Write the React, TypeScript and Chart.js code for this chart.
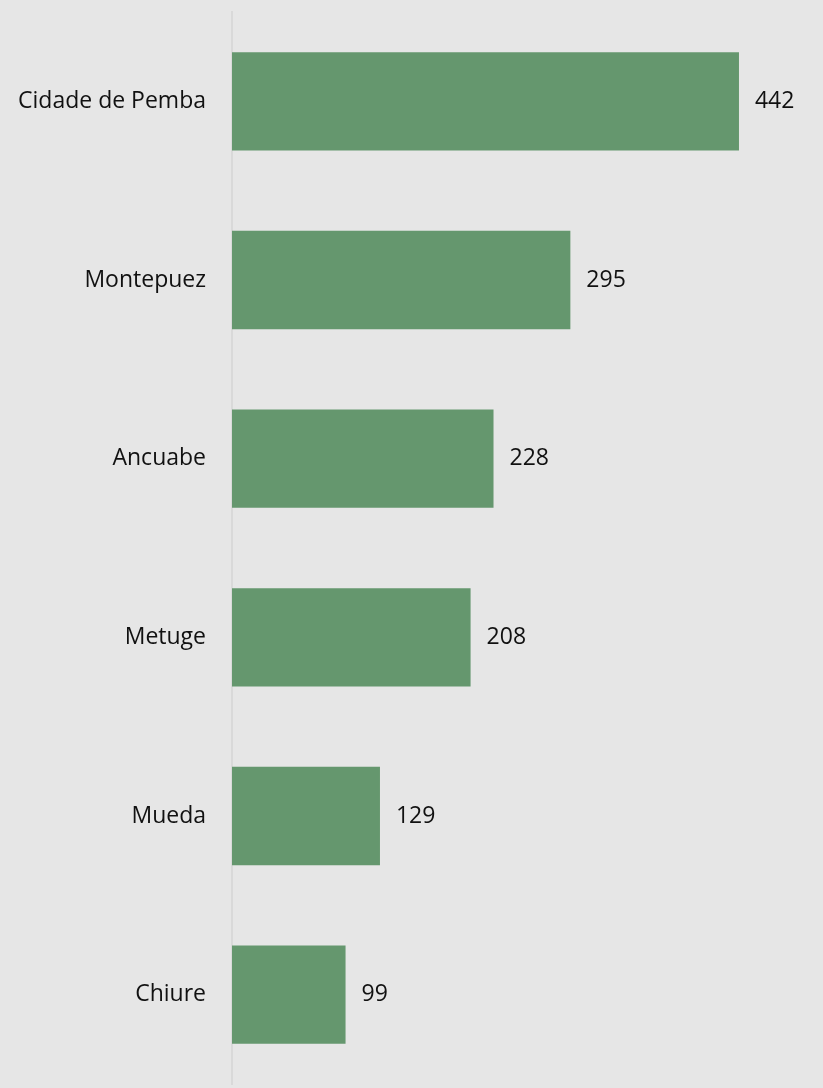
import React, { useEffect, useRef } from "react";
import { Chart, registerables } from "chart.js";

Chart.register(...registerables);

const categories = ["Cidade de Pemba", "Montepuez", "Ancuabe", "Metuge", "Mueda", "Chiure"];
const values = [442, 295, 228, 208, 129, 99];

const BAR_COLOR = "#65976e";
const BG = "#e6e6e6";
const FONT = "'Open Sans', 'Liberation Sans', sans-serif";

const valueLabels = {
  id: "valueLabels",
  afterDatasetsDraw(chart: any) {
    const ctx = chart.ctx;
    const meta = chart.getDatasetMeta(0);
    ctx.save();
    ctx.fillStyle = "#111";
    ctx.font = `23px ${FONT}`;
    ctx.textAlign = "left";
    ctx.textBaseline = "middle";
    meta.data.forEach((el: any, i: number) => {
      ctx.fillText(String(values[i]), el.x + 16, el.y);
    });
    ctx.restore();
  },
};

export default function App() {
  const ref = useRef<HTMLCanvasElement | null>(null);
  useEffect(() => {
    if (!ref.current) return;
    const chart = new Chart(ref.current, {
      type: "bar",
      data: {
        labels: categories,
        datasets: [
          {
            data: values,
            backgroundColor: BAR_COLOR,
            barPercentage: 0.55,
            categoryPercentage: 1,
          },
        ],
      },
      options: {
        indexAxis: "y",
        animation: false,
        responsive: false,
        maintainAspectRatio: false,
        layout: { padding: { top: 12, bottom: 4, left: 0, right: 17.5 } },
        plugins: { legend: { display: false }, tooltip: { enabled: false } },
        scales: {
          x: { display: false, min: 0, max: 500 },
          y: {
            afterFit: (scale: any) => {
              scale.width = 232;
              scale.paddingTop = 0;
              scale.paddingBottom = 0;
            },
            grid: { display: false, drawTicks: false },
            border: { display: true, color: "#d9d9d9", width: 2 },
            ticks: {
              padding: 26,
              color: "#111",
              font: { size: 23, family: FONT },
            },
          },
        },
      },
      plugins: [valueLabels],
    });
    return () => chart.destroy();
  }, []);
  return (
    <div style={{ position: "fixed", left: 0, top: 0, width: 823, height: 1088, background: BG }}>
      <canvas ref={ref} width={823} height={1088} style={{ display: "block" }} />
    </div>
  );
}
